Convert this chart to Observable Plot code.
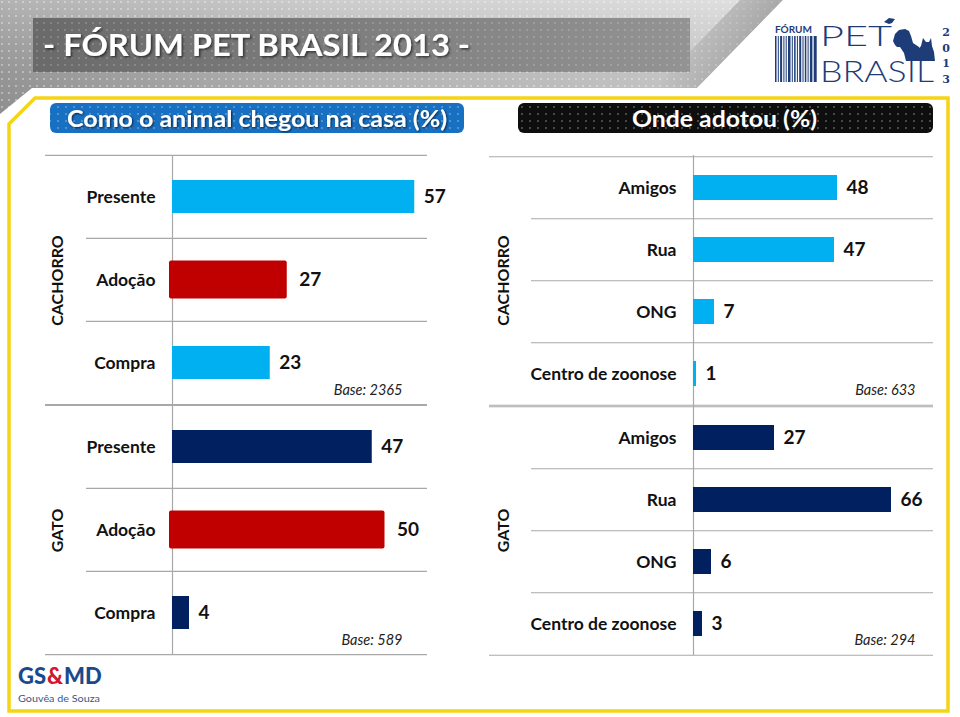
<!DOCTYPE html>
<html><head><meta charset="utf-8">
<script src="https://cdn.jsdelivr.net/npm/d3@7"></script>
<script src="https://cdn.jsdelivr.net/npm/@observablehq/plot@0.6"></script>
<style>
html,body{margin:0;padding:0;background:#fff;}
#page{position:relative;width:960px;height:717px;overflow:hidden;background:#fff;font-family:Lato,"Open Sans",sans-serif;}
.pl{position:absolute;}
</style>
</head><body>
<div id="page">
<svg id="chrome" width="960" height="717" style="position:absolute;left:0;top:0">
  <defs>
    <linearGradient id="bgG" x1="0" y1="0" x2="1" y2="0">
      <stop offset="0" stop-color="#9a9a9a"/>
      <stop offset="0.35" stop-color="#bdbdbd"/>
      <stop offset="0.75" stop-color="#d4d4d4"/>
      <stop offset="1" stop-color="#dcdcdc"/>
    </linearGradient>
    <linearGradient id="bgV" x1="0" y1="0" x2="0" y2="1">
      <stop offset="0" stop-color="#ffffff" stop-opacity="0.25"/>
      <stop offset="1" stop-color="#000000" stop-opacity="0.08"/>
    </linearGradient>
    <linearGradient id="banG" x1="0" y1="0" x2="1" y2="0">
      <stop offset="0" stop-color="#6a6a6a"/>
      <stop offset="1" stop-color="#939393"/>
    </linearGradient>
    <linearGradient id="diagG" x1="0" y1="0" x2="1" y2="0">
      <stop offset="0" stop-color="#000" stop-opacity="0"/>
      <stop offset="1" stop-color="#000" stop-opacity="0.25"/>
    </linearGradient>
    <pattern id="dots" width="7" height="7" patternUnits="userSpaceOnUse">
      <circle cx="2" cy="2" r="1" fill="#ffffff" opacity="0.45"/>
    </pattern>
    <pattern id="dots2" width="8" height="7" patternUnits="userSpaceOnUse">
      <circle cx="2" cy="2" r="0.8" fill="#ffffff" opacity="0.55"/>
    </pattern>
    <filter id="sh" x="-10%" y="-30%" width="120%" height="160%">
      <feDropShadow dx="1.5" dy="1.5" stdDeviation="1.2" flood-color="#000" flood-opacity="0.6"/>
    </filter>
    <filter id="sh2" x="-10%" y="-30%" width="120%" height="160%">
      <feDropShadow dx="1" dy="1" stdDeviation="0.8" flood-color="#000" flood-opacity="0.7"/>
    </filter>
  </defs>
  <rect x="0" y="0" width="960" height="150" fill="url(#bgG)"/>
  <rect x="0" y="0" width="960" height="150" fill="url(#bgV)"/>
  <rect x="0" y="0" width="960" height="150" fill="url(#dots)"/>
  <polygon points="740,0 783,0 697,88 655,88" fill="url(#diagG)"/>
  <rect x="33" y="18" width="657" height="54" fill="url(#banG)"/>
  <rect x="33" y="18" width="657" height="54" fill="url(#dots)" opacity="0.5"/>
  <polygon points="32,88 697,88 783,0 960,0 960,717 0,717 0,114" fill="#ffffff"/>
  <polygon points="35,98 948,98 948,711 9,711 9,124" fill="none" stroke="#f5d415" stroke-width="3.5" stroke-linejoin="miter"/>
  <text id="title" x="43" y="56" font-family="Lato" font-weight="bold" font-size="31" fill="#ffffff" filter="url(#sh)" textLength="427" lengthAdjust="spacingAndGlyphs"></text>
  <rect x="50" y="103" width="414" height="30" rx="6" fill="#1870c2"/>
  <rect x="50" y="103" width="414" height="30" rx="6" fill="url(#dots2)"/>
  <text id="pill1" x="67" y="127" font-family="Lato" font-weight="bold" font-size="23" fill="#ffffff" filter="url(#sh2)" textLength="380" lengthAdjust="spacingAndGlyphs"></text>
  <rect x="518" y="103" width="415" height="30" rx="6" fill="#0e0e0e"/>
  <rect x="518" y="103" width="415" height="30" rx="6" fill="url(#dots2)"/>
  <text id="pill2" x="632" y="127" font-family="Lato" font-weight="bold" font-size="23" fill="#ffffff" textLength="185" lengthAdjust="spacingAndGlyphs"></text>
  <!-- FÓRUM PET BRASIL logo -->
  <g id="logo" fill="#1d3c78">
    <text x="775" y="33" font-family="Lato" font-weight="bold" font-size="9.5" textLength="37" lengthAdjust="spacingAndGlyphs">FÓRUM</text>
    <g id="barcode"></g>
    <text x="820" y="46" font-family="Lato" font-weight="300" font-size="28" textLength="72" lengthAdjust="spacingAndGlyphs">PET</text>
    <text x="820" y="82" font-family="Lato" font-weight="300" font-size="30" textLength="114" lengthAdjust="spacingAndGlyphs">BRASIL</text>
    <path d="M884,22 L889,18 L895,19 L892,23 L889,24 Z"/>
    <path d="M893,41 L895,34 L899,30 L905,29 L909,31 L911,36 L913,43 L919,47 L923,55 L922,61 L906,61 L904,53 L900,47 L897,47 L895,45 Z"/>
    <path d="M916,61 L917,51 L921,46 L923,38 L926,42 L929,42 L931,38 L932,46 L934,52 L935,61 Z"/>
    <g font-family="DejaVu Serif" font-weight="bold" font-size="11" text-anchor="middle">
      <text x="946" y="36">2</text><text x="946" y="52">0</text><text x="946" y="67">1</text><text x="946" y="83">3</text>
    </g>
  </g>
  <!-- GS&MD logo -->
  <g font-family="Lato" font-weight="900" font-size="22">
    <text id="gs1" x="18" y="684" fill="#1b4a8c">GS</text>
    <text id="gs2" x="47" y="684" fill="#d3172e">&amp;</text>
    <text id="gs3" x="65" y="684" fill="#1b4a8c">MD</text>
  </g>
  <text x="18" y="702" font-family="Lato" font-size="10" fill="#37598a" textLength="82" lengthAdjust="spacingAndGlyphs">Gouvêa de Souza</text>
</svg>
<div id="p1" class="pl" style="left:0;top:150px"></div>
<div id="p2" class="pl" style="left:0;top:400px"></div>
<div id="p3" class="pl" style="left:480px;top:150px"></div>
<div id="p4" class="pl" style="left:480px;top:400px"></div>
</div>
<script>
// ---- DATA ----
const chartTitle = "- FÓRUM PET BRASIL 2013 -";
const panelTitles = ["Como o animal chegou na casa (%)", "Onde adotou (%)"];
const species = ["CACHORRO", "GATO"];
const arrivalCategories = ["Presente", "Adoção", "Compra"];
const dogArrival = [57, 27, 23];
const catArrival = [47, 50, 4];
const adoptionCategories = ["Amigos", "Rua", "ONG", "Centro de zoonose"];
const dogAdoption = [48, 47, 7, 1];
const catAdoption = [27, 66, 6, 3];
const baseLabels = ["Base: 2365", "Base: 633", "Base: 589", "Base: 294"];

document.getElementById("title").textContent = chartTitle;
document.getElementById("pill1").textContent = panelTitles[0];
document.getElementById("pill2").textContent = panelTitles[1];

// GS&MD logo pieces placed side by side without overlap
(function(){
  let x = 18;
  ["gs1", "gs2", "gs3"].forEach(id => {
    const t = document.getElementById(id);
    t.setAttribute("x", x);
    x += t.getComputedTextLength() + 1;
  });
})();

// barcode decoration
(function(){
  const g = document.getElementById("barcode");
  const ws = [1.5,1,2,1,1,2.5,1,1.5,1,2,1,1.5,1,2.5,3];
  let x = 775;
  ws.forEach((w,i)=>{
    const r = document.createElementNS("http://www.w3.org/2000/svg","rect");
    r.setAttribute("x", x); r.setAttribute("y", 36); r.setAttribute("width", w); r.setAttribute("height", 46);
    g.appendChild(r); x += w + 1.3;
  });
})();

const LIGHT = "#00b0f0", NAVY = "#002060", RED = "#c00000", GRID = "#a8a8a8";

function panel(opts) {
  const {cats, values, speciesLabel, base, color, width, marginLeft, marginRight, xMax, frameRight,
         outerInset, innerInset, speciesX, baseDx, pad} = opts;
  const data = cats.map((c, i) => ({cat: c, value: values[i]}));
  const H = 250, mt = 5, mb = 5;
  const step = H / cats.length;
  const isRed = d => d.cat === "Adoção";
  // extra right margin keeps value labels inside the svg; rules end at frameRight
  const extra = width - marginRight - frameRight;
  return Plot.plot({
    width, height: H + mt + mb,
    marginLeft, marginRight, marginTop: mt, marginBottom: mb,
    x: {domain: [0, xMax], range: [marginLeft, frameRight], axis: null},
    y: {domain: cats, axis: null, paddingInner: pad, paddingOuter: pad / 2},
    style: {fontFamily: "Lato, 'Open Sans', sans-serif", background: "transparent", color: "#111", overflow: "visible"},
    marks: [
      Plot.ruleY(data.slice(0, 1), {y: "cat", dy: -step / 2, stroke: GRID, strokeWidth: 1.2, insetLeft: -outerInset, insetRight: extra}),
      Plot.ruleY(data.slice(1), {y: "cat", dy: -step / 2, stroke: GRID, strokeWidth: 1.2, insetLeft: -innerInset, insetRight: extra}),
      Plot.ruleY(data.slice(-1), {y: "cat", dy: step / 2, stroke: GRID, strokeWidth: 1.2, insetLeft: -outerInset, insetRight: extra}),
      Plot.ruleX([0], {stroke: GRID, strokeWidth: 1.2}),
      Plot.barX(data.filter(d => !isRed(d)), {x: "value", y: "cat", fill: color}),
      Plot.barX(data.filter(isRed), {x: "value", y: "cat", fill: RED, insetTop: -2.5, insetBottom: -2.5, insetLeft: -3, rx: 2}),
      Plot.text(data.filter(d => !isRed(d)), {x: "value", y: "cat", text: d => String(d.value), dx: 9, textAnchor: "start", fontWeight: "bold", fontSize: 19, fill: "#111"}),
      Plot.text(data.filter(isRed), {x: "value", y: "cat", text: d => String(d.value), dx: 12, textAnchor: "start", fontWeight: "bold", fontSize: 19, fill: "#111"}),
      Plot.text(data, {y: "cat", text: "cat", frameAnchor: "left", dx: -17, textAnchor: "end", fontWeight: "bold", fontSize: 17.5, fill: "#111"}),
      Plot.text([speciesLabel], {text: d => d, frameAnchor: "left", dx: speciesX - marginLeft, textAnchor: "middle", lineAnchor: "middle", rotate: -90, fontWeight: "bold", fontSize: 16, fill: "#111"}),
      Plot.text([base], {text: d => d, frameAnchor: "bottom-right", dx: baseDx - extra, dy: -15, textAnchor: "end", lineAnchor: "middle", fontStyle: "italic", fontSize: 14.5, fill: "#222"})
    ]
  });
}

const leftCommon = {cats: arrivalCategories, width: 470, marginLeft: 172, marginRight: 10, frameRight: 427, xMax: 60,
  outerInset: 127, innerInset: 86, speciesX: 57, baseDx: -25, pad: 0.6};
const rightCommon = {cats: adoptionCategories, width: 475, marginLeft: 213, marginRight: 5, frameRight: 453, xMax: 80,
  outerInset: 204, innerInset: 162, speciesX: 23, baseDx: -18, pad: 0.6};

document.getElementById("p1").appendChild(panel({...leftCommon, values: dogArrival, speciesLabel: species[0], base: baseLabels[0], color: LIGHT}));
document.getElementById("p2").appendChild(panel({...leftCommon, values: catArrival, speciesLabel: species[1], base: baseLabels[2], color: NAVY}));
document.getElementById("p3").appendChild(panel({...rightCommon, values: dogAdoption, speciesLabel: species[0], base: baseLabels[1], color: LIGHT}));
document.getElementById("p4").appendChild(panel({...rightCommon, values: catAdoption, speciesLabel: species[1], base: baseLabels[3], color: NAVY}));
</script>
</body></html>
